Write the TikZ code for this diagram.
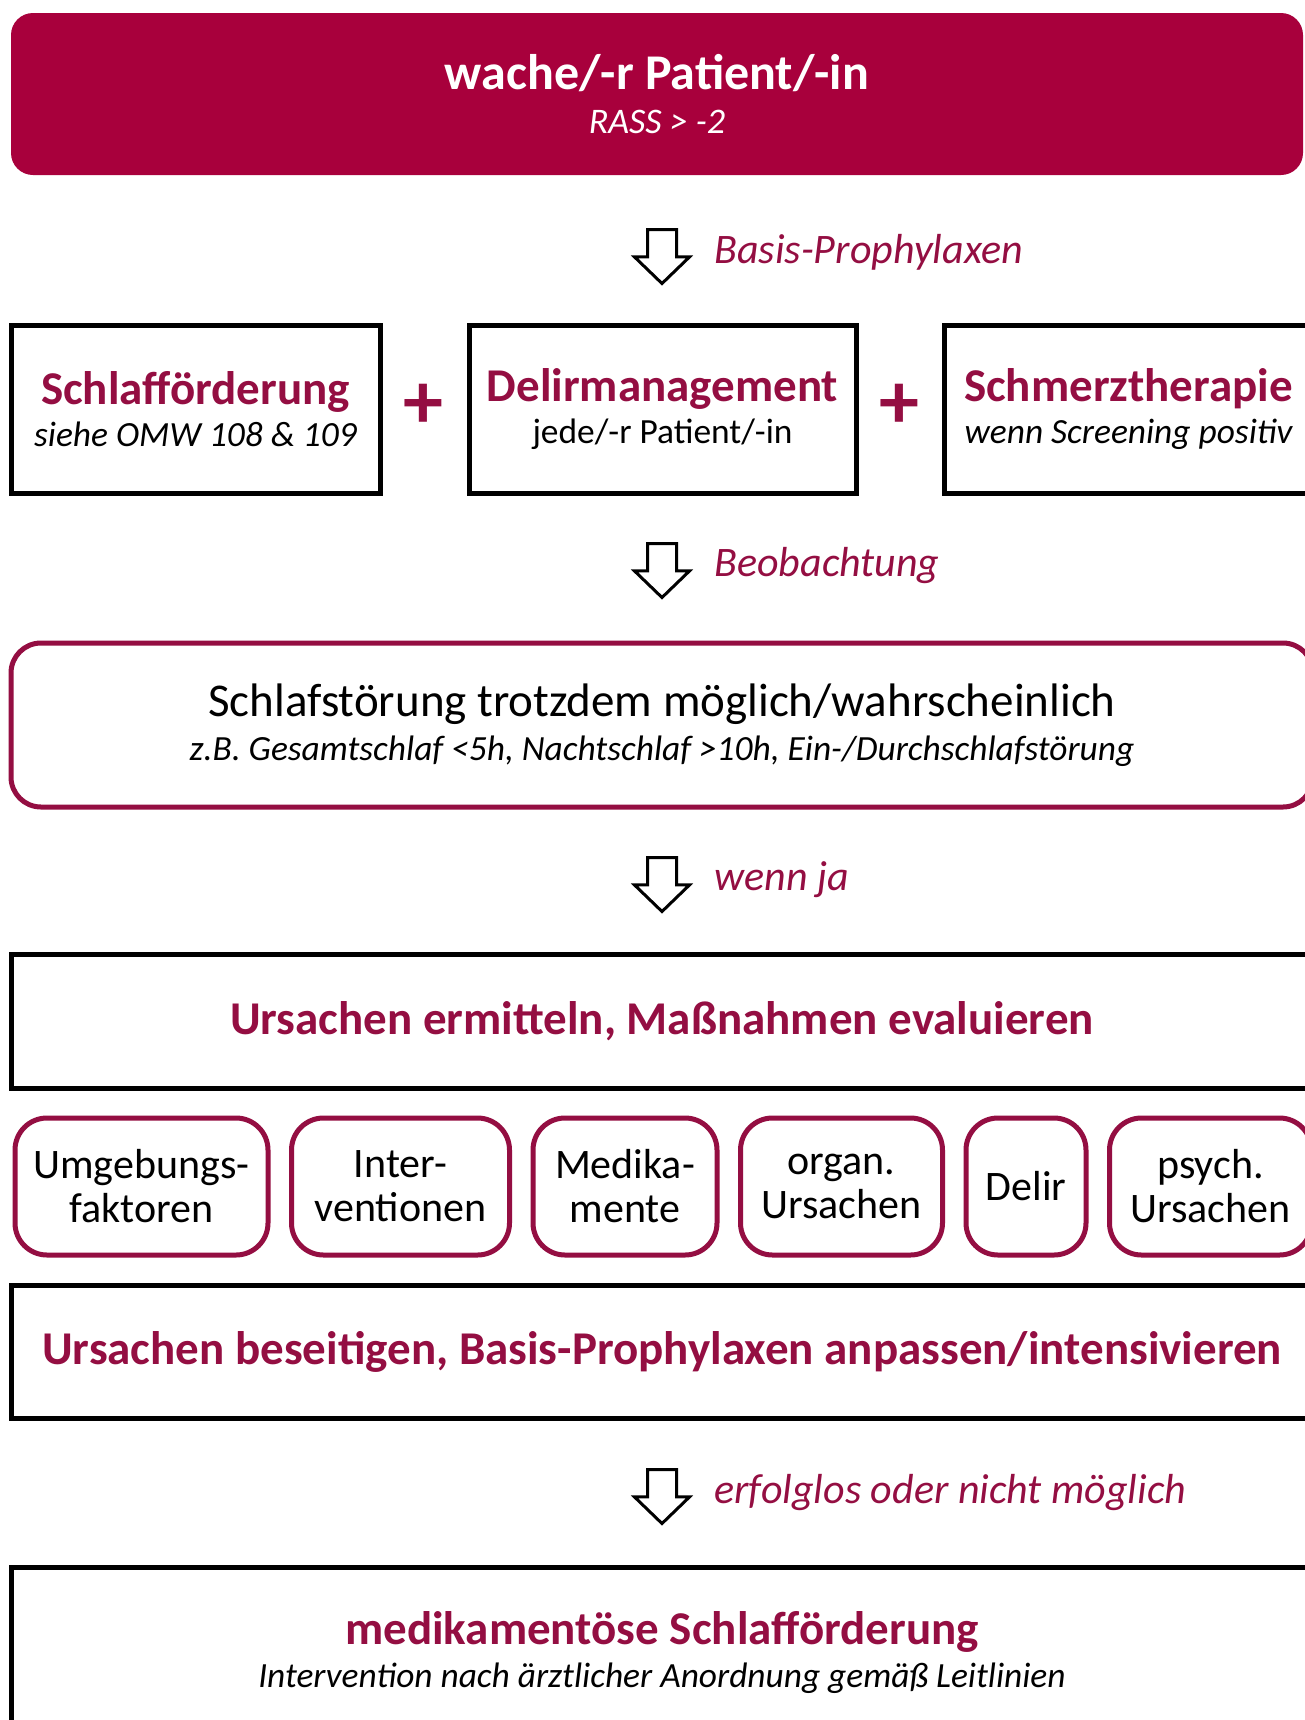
\documentclass[tikz,border=0pt]{standalone}
\usepackage{fontspec}
\setmainfont{Carlito}
\usetikzlibrary{shapes.arrows,positioning}
\definecolor{wine}{RGB}{168,0,60}
\definecolor{winedark}{RGB}{148,14,66}
% text sizes
\newcommand\fhead{\fontsize{23.5}{26}\selectfont\bfseries\color{winedark}}
\newcommand\fsub{\fontsize{17.7}{20}\selectfont\itshape}

\begin{document}
\begin{tikzpicture}[x=0.5pt,y=-0.5pt,
    head/.style={fill=wine, rounded corners=11pt, inner sep=0pt,
      minimum width=646pt, minimum height=81pt, text=white, align=center},
    blackbox/.style={draw=black, line width=2.5pt, inner sep=0pt, align=center},
    winebox/.style={draw=winedark, line width=2.5pt, rounded corners=15pt,
      inner sep=0pt, align=center},
    cause/.style={draw=winedark, line width=2.5pt, rounded corners=16pt,
      minimum height=68.5pt, inner sep=0pt, align=center,
      font=\fontsize{21}{22}\selectfont},
    down/.style={single arrow, draw=black, line width=1.5pt, fill=white,
      rotate=-90, anchor=tail, minimum height=27pt, inner sep=6.5pt,
      single arrow head extend=6.5pt, single arrow tip angle=92},
    hint/.style={anchor=west, inner sep=0pt, text=winedark,
      font=\fontsize{21}{24}\selectfont\itshape},
    plus/.style={inner sep=0pt, text=winedark, font=\fontsize{40}{40}\selectfont\bfseries}
  ]
  \useasboundingbox (0,0) rectangle (1305,1720);
  \fill[white] (0,0) rectangle (1305,1720);
  \clip (0,0) rectangle (1305,1720);

  % start
  \node[head] (wake) at (657,94)
    {{\fontsize{25}{28}\selectfont\bfseries wache/-r Patient/-in}\\[8pt]
     {\fontsize{18}{20}\selectfont\itshape RASS > -2}};

  \node[down] (arrA) at (662,228) {};
  \node[hint, right=26pt of arrA.tail, yshift=-12pt] (lblA) {Basis-Prophylaxen};

  % three basic measures
  \node[blackbox, minimum width=184.5pt, minimum height=84pt] (sleep) at (195.5,409)
    {{\fhead Schlafförderung}\\[4pt]{\fsub siehe OMW 108 \& 109}};
  \node[blackbox, minimum width=193.5pt, minimum height=84pt] (delmgmt) at (662.5,409)
    {{\fhead Delirmanagement}\\[4pt]{\fontsize{17.7}{20}\selectfont jede/-r Patient/-in}};
  \node[blackbox, minimum width=184.5pt, minimum height=84pt] (pain) at (1128.5,409)
    {{\fhead Schmerztherapie}\\[4pt]{\fsub wenn Screening positiv}};
  \node[plus] (plusA) at (423,406) {+};
  \node[plus] (plusB) at (899,406) {+};

  \node[down] (arrB) at (662,542) {};
  \node[hint, right=26pt of arrB.tail, yshift=-12pt] (lblB) {Beobachtung};

  \node[winebox, minimum width=651pt, minimum height=82pt] (doubt) at (662,725)
    {{\fontsize{23.5}{26}\selectfont Schlafstörung trotzdem möglich/wahrscheinlich}\\[4.5pt]
     {\fsub z.B. Gesamtschlaf <5h, Nachtschlaf >10h, Ein-/Durchschlafstörung}};

  \node[down] (arrC) at (662,856) {};
  \node[hint, right=26pt of arrC.tail, yshift=-12pt] (lblC) {wenn ja};

  \node[blackbox, minimum width=651pt, minimum height=67pt] (find) at (662,1021)
    {\fhead Ursachen ermitteln, Maßnahmen evaluieren};

  % causes
  \node[cause, minimum width=126.5pt] (env) at (141.5,1186.5) {Umgebungs-\\faktoren};
  \node[cause, minimum width=109pt, right=9.25pt of env] (interv) {Inter-\\ventionen};
  \node[cause, minimum width=92pt, right=9.25pt of interv] (meds) {Medika-\\mente};
  \node[cause, minimum width=101pt, right=9.25pt of meds] (organ) {organ.\\Ursachen};
  \node[cause, minimum width=60pt, right=9.25pt of organ] (delir) {Delir};
  \node[cause, minimum width=101pt, right=9.25pt of delir] (psych) {psych.\\Ursachen};

  \node[blackbox, minimum width=651pt, minimum height=66.5pt] (fix) at (662,1351.5)
    {\fhead Ursachen beseitigen, Basis-Prophylaxen anpassen/intensivieren};

  \node[down] (arrD) at (662,1468) {};
  \node[hint, right=26pt of arrD.tail, yshift=-12pt] (lblD) {erfolglos oder nicht möglich};

  % last step
  \node[blackbox, minimum width=651pt, minimum height=120pt, anchor=north] (drug) at (662,1565) {};
  \node[below=23pt of drug.north, align=center, inner sep=0pt] (drugtext)
    {{\fhead medikamentöse Schlafförderung}\\[4.5pt]
     {\fsub Intervention nach ärztlicher Anordnung gemäß Leitlinien}};
\end{tikzpicture}
\end{document}
